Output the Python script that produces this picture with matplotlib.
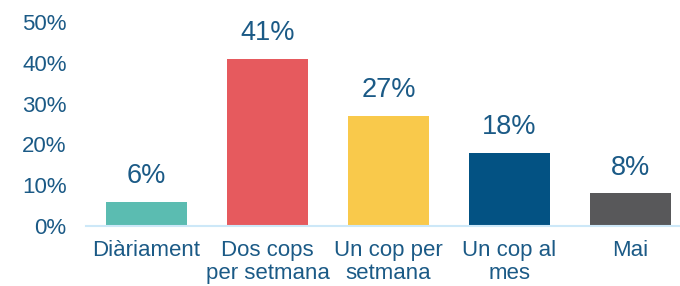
import matplotlib.pyplot as plt
import numpy as np

plt.rcParams['font.family'] = ['Liberation Sans', 'DejaVu Sans']

categories = ['Diàriament', 'Dos cops\nper setmana', 'Un cop per\nsetmana', 'Un cop al\nmes', 'Mai']
values = [6, 41, 27, 18, 8]
colors = ['#5bbcb1', '#e65a5e', '#f9c94b', '#035283', '#58585a']
yticks = [0, 10, 20, 30, 40, 50]

text_color = '#1b5a86'

fig = plt.figure(figsize=(6.8, 2.86), dpi=100)
ax = fig.add_axes([86 / 680, 60 / 286, 594 / 680, 204 / 286])

x = np.arange(len(categories))
ax.bar(x, values, width=0.67, color=colors)

for xi, v in zip(x, values):
    ax.annotate(f'{v}%', (xi, v), xytext=(0, 9), textcoords='offset points',
                ha='center', va='bottom', fontsize=19.5, color=text_color)

ax.set_xlim(-0.5, 594 / 121 - 0.5)
ax.set_ylim(0, 50)
ax.set_yticks(yticks)
ax.set_yticklabels([f'{t}%' for t in yticks], fontsize=16, color=text_color)
ax.set_xticks(x)
ax.set_xticklabels(categories, fontsize=16, color=text_color, linespacing=1.12)

for s in ['top', 'right', 'left']:
    ax.spines[s].set_visible(False)
ax.spines['bottom'].set_color('#cde8f8')
ax.spines['bottom'].set_linewidth(1.5)
ax.tick_params(axis='both', length=0)
ax.tick_params(axis='y', pad=14)
ax.tick_params(axis='x', pad=10)

fig.savefig('out.png', dpi=100)
